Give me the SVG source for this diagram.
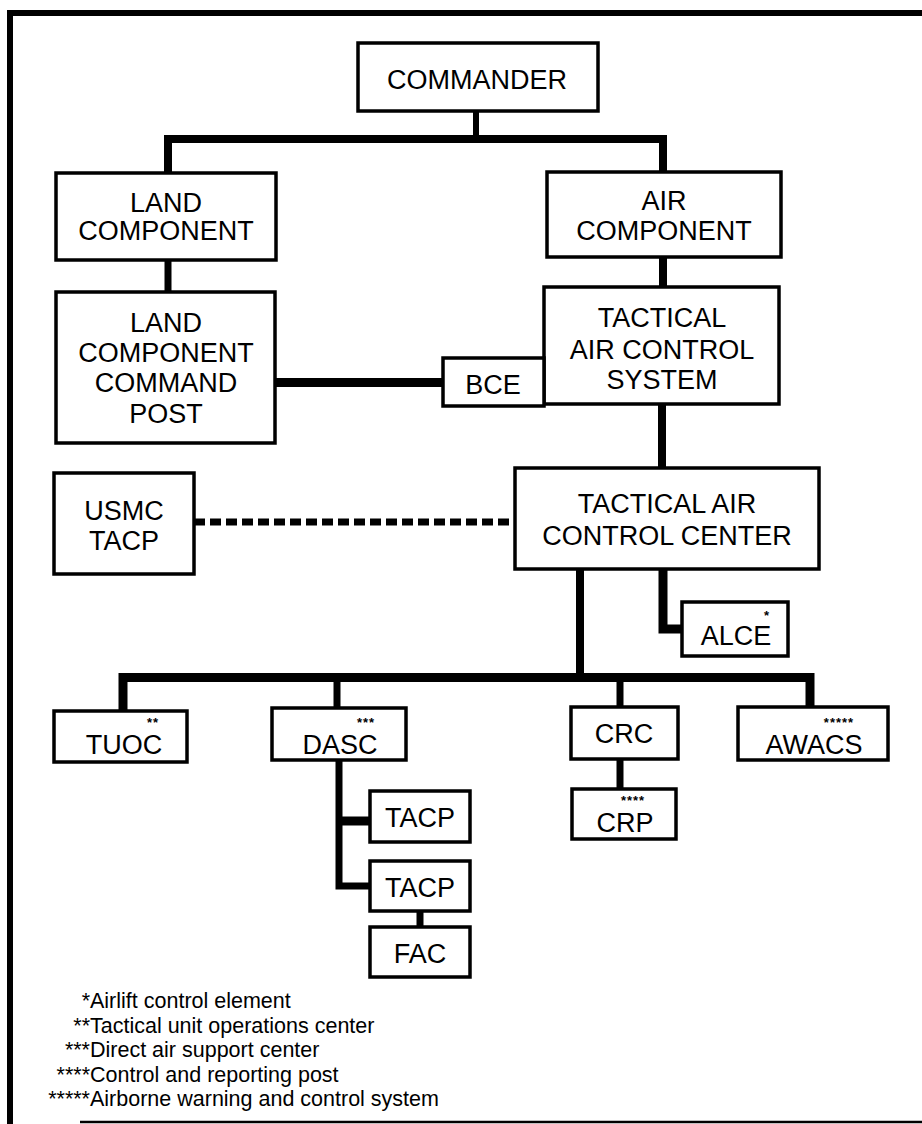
<svg xmlns="http://www.w3.org/2000/svg" width="922" height="1124" viewBox="0 0 922 1124">
<style>
.box{fill:#fff;stroke:#000;stroke-width:3.5}
.lbl{font-family:"Liberation Sans",Arial,sans-serif;font-size:27px;text-anchor:middle;fill:#000}
.star{font-family:"Liberation Sans",Arial,sans-serif;font-size:13px;font-weight:bold;letter-spacing:1px;text-anchor:middle;fill:#000}
.leg{font-family:"Liberation Sans",Arial,sans-serif;font-size:21.5px;fill:#000}
.c{fill:none;stroke:#000;stroke-linejoin:miter;stroke-linecap:butt}
.frame{fill:none;stroke:#000}
</style>
<rect width="922" height="1124" fill="#fff"/>
<g id="frame">
<path class="frame" d="M7 13 H922" stroke-width="6"/>
<path class="frame" d="M10 10 V1124" stroke-width="6"/>
<path class="frame" d="M80 1122 H922" stroke-width="2.5"/>
</g>
<g id="connectors">
<path class="c" d="M476 112 V139" stroke-width="6"/>
<path class="c" d="M168 173 V139 H663 V172" stroke-width="8"/>
<path class="c" d="M168 260 V292" stroke-width="7"/>
<path class="c" d="M663 257 V287" stroke-width="8"/>
<path class="c" d="M275 382.5 H443" stroke-width="9"/>
<path class="c" d="M662 404 V468" stroke-width="8"/>
<path class="c" d="M194 522 H515" stroke-width="7" stroke-dasharray="11 5"/>
<path class="c" d="M663 569 V629 H682" stroke-width="9"/>
<path class="c" d="M580 569 V677" stroke-width="8"/>
<path class="c" d="M123 711 V677.5 H810 V707" stroke-width="9"/>
<path class="c" d="M337 677 V708" stroke-width="7"/>
<path class="c" d="M620 677 V707" stroke-width="7"/>
<path class="c" d="M620 759 V789" stroke-width="7"/>
<path class="c" d="M339 760 V886 H370" stroke-width="7"/>
<path class="c" d="M339 821 H370" stroke-width="9"/>
<path class="c" d="M420 911 V927" stroke-width="7"/>
</g>
<g id="commander"><rect class="box" x="358" y="43" width="240" height="68"/><text class="lbl" x="477" y="89">COMMANDER</text></g>
<g id="land-component"><rect class="box" x="56" y="173" width="220" height="87"/><text class="lbl" x="166" y="212">LAND</text><text class="lbl" x="166" y="240">COMPONENT</text></g>
<g id="air-component"><rect class="box" x="547" y="172" width="234" height="85"/><text class="lbl" x="664" y="210">AIR</text><text class="lbl" x="664" y="240">COMPONENT</text></g>
<g id="lccp"><rect class="box" x="56" y="292" width="219" height="151"/><text class="lbl" x="166" y="332">LAND</text><text class="lbl" x="166" y="362">COMPONENT</text><text class="lbl" x="166" y="392">COMMAND</text><text class="lbl" x="166" y="423">POST</text></g>
<g id="tacs"><rect class="box" x="544" y="287" width="235" height="117"/><text class="lbl" x="662" y="327">TACTICAL</text><text class="lbl" x="662" y="359">AIR CONTROL</text><text class="lbl" x="662" y="389">SYSTEM</text></g>
<g id="bce"><rect class="box" x="443" y="358" width="101" height="48"/><text class="lbl" x="493" y="394">BCE</text></g>
<g id="usmc-tacp"><rect class="box" x="54" y="473" width="140" height="101"/><text class="lbl" x="124" y="520">USMC</text><text class="lbl" x="124" y="550">TACP</text></g>
<g id="tacc"><rect class="box" x="515" y="468" width="304" height="101"/><text class="lbl" x="667" y="513">TACTICAL AIR</text><text class="lbl" x="667" y="545">CONTROL CENTER</text></g>
<g id="alce"><rect class="box" x="682" y="602" width="106" height="54"/><text class="lbl" x="736" y="645">ALCE</text><text class="star" x="767" y="620">*</text></g>
<g id="tuoc"><rect class="box" x="54" y="711" width="133" height="51"/><text class="lbl" x="124" y="754">TUOC</text><text class="star" x="153" y="726.5">**</text></g>
<g id="dasc"><rect class="box" x="272" y="708" width="134" height="52"/><text class="lbl" x="340" y="754">DASC</text><text class="star" x="366" y="726.5">***</text></g>
<g id="crc"><rect class="box" x="571" y="707" width="107" height="52"/><text class="lbl" x="624" y="743">CRC</text></g>
<g id="awacs"><rect class="box" x="738" y="707" width="150" height="53"/><text class="lbl" x="814" y="754">AWACS</text><text class="star" x="839" y="726.5">*****</text></g>
<g id="crp"><rect class="box" x="572" y="789" width="104" height="50"/><text class="lbl" x="625" y="832">CRP</text><text class="star" x="633" y="804.5">****</text></g>
<g id="tacp1"><rect class="box" x="370" y="791" width="100" height="51"/><text class="lbl" x="420" y="827">TACP</text></g>
<g id="tacp2"><rect class="box" x="370" y="861" width="100" height="50"/><text class="lbl" x="420" y="897">TACP</text></g>
<g id="fac"><rect class="box" x="370" y="927" width="100" height="50"/><text class="lbl" x="420" y="963">FAC</text></g>
<g id="legend">
<text class="leg"><tspan x="90" y="1008" text-anchor="end">*</tspan><tspan x="90" y="1008">Airlift control element</tspan></text>
<text class="leg"><tspan x="90" y="1032.5" text-anchor="end">**</tspan><tspan x="90" y="1032.5">Tactical unit operations center</tspan></text>
<text class="leg"><tspan x="90" y="1057" text-anchor="end">***</tspan><tspan x="90" y="1057">Direct air support center</tspan></text>
<text class="leg"><tspan x="90" y="1081.5" text-anchor="end">****</tspan><tspan x="90" y="1081.5">Control and reporting post</tspan></text>
<text class="leg"><tspan x="90" y="1106" text-anchor="end">*****</tspan><tspan x="90" y="1106">Airborne warning and control system</tspan></text>
</g>
</svg>
